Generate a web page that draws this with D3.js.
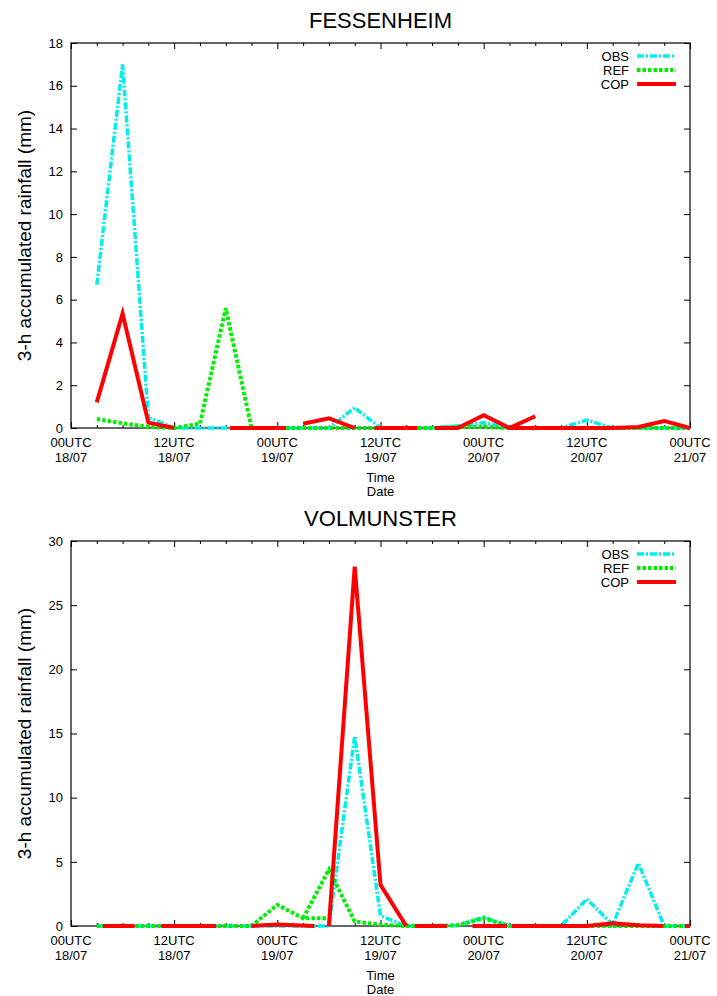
<!DOCTYPE html>
<html>
<head>
<meta charset="utf-8">
<style>
  body { margin: 0; background: #fff; }
  svg text { font-family: "Liberation Sans", Arial, sans-serif; fill: #000; }
  .tick line { stroke: #000; stroke-width: 1px; }
  .domain { display: none; }
</style>
</head>
<body>
<svg width="717" height="996"></svg>
<script src="https://d3js.org/d3.v7.min.js"></script>
<script>
// hours since 00UTC 18/07, 3-hourly
var hours = [3, 6, 9, 12, 15, 18, 21, 24, 27, 30, 33, 36, 39, 42, 45, 48, 51, 54, 57, 60, 63, 66, 69, 72];
var majorTicks = [0, 12, 24, 36, 48, 60, 72];
var tickLabels = [["00UTC", "18/07"], ["12UTC", "18/07"], ["00UTC", "19/07"], ["12UTC", "19/07"],
                  ["00UTC", "20/07"], ["12UTC", "20/07"], ["00UTC", "21/07"]];
var minorTicks = [3, 6, 9, 15, 18, 21, 27, 30, 33, 39, 42, 45, 51, 54, 57, 63, 66, 69];

// FESSENHEIM
var fessObs = [6.7, 17.0, 0.5, 0, 0, 0, 0, 0, 0, 0, 0.95, 0, 0, 0, 0.1, 0.25, 0, 0, 0, 0.37, 0, 0, 0, 0];
var fessRef = [0.42, 0.22, 0.05, 0, 0.2, 5.6, 0, 0, 0, 0, 0, 0, 0, 0, 0.05, 0.05, 0, 0, 0, 0, 0, 0, 0, 0];
// model runs: [hour, mm] pieces
var fessCop = [
  [[3, 1.2], [6, 5.35], [9, 0.25], [12, 0]],
  [[18.5, 0], [25, 0]],
  [[27, 0.2], [30, 0.45], [33, 0]],
  [[35.3, 0], [40.3, 0]],
  [[42.3, 0], [45, 0], [48, 0.6], [51, 0], [54, 0.55]],
  [[51, 0], [54, 0], [57, 0], [60, 0], [63, 0], [66, 0.05], [69, 0.33], [72, 0]]
];

// VOLMUNSTER
var volObs = [0, 0, 0, 0, 0, 0, 0, 0, 0, 0, 14.8, 0.8, 0, 0, 0.05, 0.7, 0, 0, 0, 2.1, 0.1, 4.9, 0, 0];
var volRef = [0, 0, 0, 0, 0, 0, 0, 1.65, 0.6, 0.6, null, null, null, null, null, null, null, null, null, null, null, null, null, null];
var volRefLate = [null, null, null, null, null, null, null, null, 0.6, 4.4, 0.35, 0.1, 0, 0, 0.05, 0.6, 0, 0, 0, 0, 0, 0, 0, 0];
var volCop = [
  [[3.7, 0], [7.4, 0]],
  [[10.5, 0], [16.9, 0]],
  [[21, 0], [24, 0.12], [28.3, 0]],
  [[30, 0], [33, 28], [36, 3.2], [39, 0]],
  [[40, 0], [43.7, 0]],
  [[46.7, 0], [50.7, 0]],
  [[51.3, 0], [54, 0], [57, 0], [60, 0], [63, 0.22], [66, 0.05], [68.9, 0]],
  [[71.4, 0], [72, 0]]
];

var styles = {
  OBS: { color: "#00eeee", width: 3.5, dash: "7,2,2,2" },
  REF: { color: "#00ee00", width: 4, dash: "3.5,2" },
  COP: { color: "#ff0000", width: 4, dash: null }
};

var svg = d3.select("svg");
var left = 71, right = 690;

function toRun(values) {
  return hours.map(function(h, i) { return [h, values[i]]; });
}

function drawPanel(title, top, bottom, yMax, yStep, series) {
  var x = d3.scaleLinear().domain([0, 72]).range([left, right]);
  var y = d3.scaleLinear().domain([0, yMax]).range([bottom, top]);
  var yTicks = d3.range(0, yMax + yStep / 2, yStep);
  var g = svg.append("g");

  // ticks: inward, mirrored on all four sides
  g.append("g").attr("transform", "translate(0," + bottom + ")")
    .call(d3.axisBottom(x).tickValues(majorTicks).tickSize(-6).tickFormat(""));
  g.append("g").attr("transform", "translate(0," + bottom + ")")
    .call(d3.axisBottom(x).tickValues(minorTicks).tickSize(-3).tickFormat(""));
  g.append("g").attr("transform", "translate(0," + top + ")")
    .call(d3.axisTop(x).tickValues(majorTicks).tickSize(-6).tickFormat(""));
  g.append("g").attr("transform", "translate(0," + top + ")")
    .call(d3.axisTop(x).tickValues(minorTicks).tickSize(-3).tickFormat(""));
  g.append("g").attr("transform", "translate(" + left + ",0)")
    .call(d3.axisLeft(y).tickValues(yTicks).tickSize(-6).tickPadding(8))
    .selectAll("text").style("font-size", "13px").style("font-family", "'Liberation Sans', Arial, sans-serif");
  g.append("g").attr("transform", "translate(" + right + ",0)")
    .call(d3.axisRight(y).tickValues(yTicks).tickSize(-6).tickFormat(""));

  // two-line time labels
  var lab = g.selectAll(".xlab").data(majorTicks).enter().append("text")
    .attr("text-anchor", "middle").style("font-size", "13px");
  lab.append("tspan").attr("x", function(d) { return x(d); }).attr("y", bottom + 19)
    .text(function(d, i) { return tickLabels[i][0]; });
  lab.append("tspan").attr("x", function(d) { return x(d); }).attr("y", bottom + 34)
    .text(function(d, i) { return tickLabels[i][1]; });

  g.append("text").attr("x", (left + right) / 2).attr("y", bottom + 54)
    .attr("text-anchor", "middle").style("font-size", "13px").text("Time");
  g.append("text").attr("x", (left + right) / 2).attr("y", bottom + 68)
    .attr("text-anchor", "middle").style("font-size", "13px").text("Date");
  g.append("text").attr("x", (left + right) / 2).attr("y", top - 15)
    .attr("text-anchor", "middle").style("font-size", "22px").text(title);
  g.append("text")
    .attr("transform", "translate(24," + (top + bottom) / 2 + ") rotate(-90)")
    .attr("text-anchor", "middle").attr("dy", "0.35em")
    .style("font-size", "19px").text("3-h accumulated rainfall (mm)");

  // frame
  g.append("rect").attr("x", left).attr("y", top)
    .attr("width", right - left).attr("height", bottom - top)
    .attr("fill", "none").attr("stroke", "#000").attr("stroke-width", 1.2);

  var line = d3.line()
    .defined(function(d) { return d[1] != null; })
    .x(function(d) { return x(d[0]); })
    .y(function(d) { return y(d[1]); });

  // series in gnuplot order: OBS, REF, COP (last one on top)
  series.forEach(function(s, k) {
    var st = styles[s.name];
    g.append("g").selectAll("path").data(s.runs).enter().append("path")
      .attr("d", line)
      .attr("fill", "none")
      .attr("stroke", st.color)
      .attr("stroke-width", st.width)
      .attr("stroke-dasharray", st.dash)
      .attr("stroke-linejoin", "miter");

    // legend
    var ly = top + 13 + k * 14;
    g.append("text").attr("x", 629).attr("y", ly).attr("dy", "0.35em")
      .attr("text-anchor", "end").style("font-size", "13px").text(s.name);
    g.append("line").attr("x1", 637).attr("x2", 676).attr("y1", ly).attr("y2", ly)
      .attr("stroke", st.color).attr("stroke-width", st.width)
      .attr("stroke-dasharray", st.dash);
  });
}

drawPanel("FESSENHEIM", 43, 428, 18, 2, [
  { name: "OBS", runs: [toRun(fessObs)] },
  { name: "REF", runs: [toRun(fessRef)] },
  { name: "COP", runs: fessCop }
]);

drawPanel("VOLMUNSTER", 541, 926, 30, 5, [
  { name: "OBS", runs: [toRun(volObs)] },
  { name: "REF", runs: [toRun(volRef), toRun(volRefLate)] },
  { name: "COP", runs: volCop }
]);
</script>
</body>
</html>
